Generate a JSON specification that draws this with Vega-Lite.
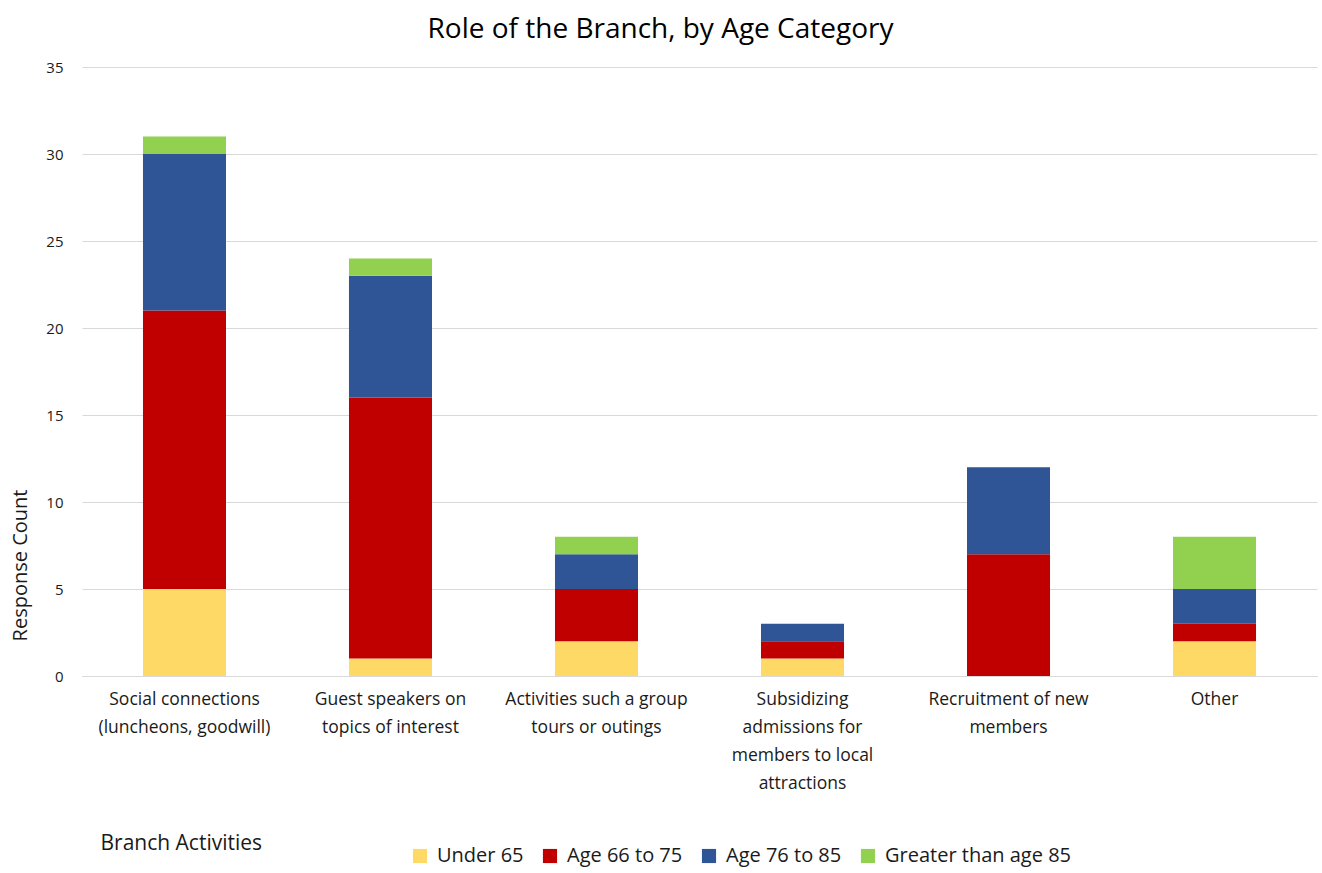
{
  "$schema": "https://vega.github.io/schema/vega-lite/v6.json",
  "autosize": "none",
  "width": 1235,
  "height": 609,
  "padding": {"left": 82, "top": 67, "right": 5, "bottom": 197},
  "background": "white",
  "title": {"text": "Role of the Branch, by Age Category", "fontSize": 28, "font": "Open Sans", "fontWeight": "normal", "color": "#000000", "dx": -39, "offset": 16},
  "config": {"view": {"stroke": null}, "font": "Open Sans"},
  "data": {"values": [
    {"activity": "Social connections (luncheons, goodwill)", "age": "Under 65", "order": 1, "count": 5},
    {"activity": "Social connections (luncheons, goodwill)", "age": "Age 66 to 75", "order": 2, "count": 16},
    {"activity": "Social connections (luncheons, goodwill)", "age": "Age 76 to 85", "order": 3, "count": 9},
    {"activity": "Social connections (luncheons, goodwill)", "age": "Greater than age 85", "order": 4, "count": 1},
    {"activity": "Guest speakers on topics of interest", "age": "Under 65", "order": 1, "count": 1},
    {"activity": "Guest speakers on topics of interest", "age": "Age 66 to 75", "order": 2, "count": 15},
    {"activity": "Guest speakers on topics of interest", "age": "Age 76 to 85", "order": 3, "count": 7},
    {"activity": "Guest speakers on topics of interest", "age": "Greater than age 85", "order": 4, "count": 1},
    {"activity": "Activities such a group tours or outings", "age": "Under 65", "order": 1, "count": 2},
    {"activity": "Activities such a group tours or outings", "age": "Age 66 to 75", "order": 2, "count": 3},
    {"activity": "Activities such a group tours or outings", "age": "Age 76 to 85", "order": 3, "count": 2},
    {"activity": "Activities such a group tours or outings", "age": "Greater than age 85", "order": 4, "count": 1},
    {"activity": "Subsidizing admissions for members to local attractions", "age": "Under 65", "order": 1, "count": 1},
    {"activity": "Subsidizing admissions for members to local attractions", "age": "Age 66 to 75", "order": 2, "count": 1},
    {"activity": "Subsidizing admissions for members to local attractions", "age": "Age 76 to 85", "order": 3, "count": 1},
    {"activity": "Subsidizing admissions for members to local attractions", "age": "Greater than age 85", "order": 4, "count": 0},
    {"activity": "Recruitment of new members", "age": "Under 65", "order": 1, "count": 0},
    {"activity": "Recruitment of new members", "age": "Age 66 to 75", "order": 2, "count": 7},
    {"activity": "Recruitment of new members", "age": "Age 76 to 85", "order": 3, "count": 5},
    {"activity": "Recruitment of new members", "age": "Greater than age 85", "order": 4, "count": 0},
    {"activity": "Other", "age": "Under 65", "order": 1, "count": 2},
    {"activity": "Other", "age": "Age 66 to 75", "order": 2, "count": 1},
    {"activity": "Other", "age": "Age 76 to 85", "order": 3, "count": 2},
    {"activity": "Other", "age": "Greater than age 85", "order": 4, "count": 3}
  ]},
  "mark": {"type": "bar"},
  "encoding": {
    "x": {
      "field": "activity", "type": "nominal", "sort": null,
      "scale": {"paddingInner": 0.597, "paddingOuter": 0.296},
      "axis": {
        "title": "Branch Activities", "titleFontSize": 21, "titleFontWeight": "normal", "titleColor": "#1a1a1a",
        "titleAnchor": "start", "titleAlign": "left", "titleX": 18, "titleY": 167, "titleBaseline": "middle",
        "labelAngle": 0, "labelFontSize": 17.5, "labelColor": "#1a1a1a", "labelPadding": 14, "labelLineHeight": 28,
        "labelBaseline": "top", "labelLimit": 300,
        "labelExpr": "datum.value == 'Social connections (luncheons, goodwill)' ? ['Social connections', '(luncheons, goodwill)'] : datum.value == 'Guest speakers on topics of interest' ? ['Guest speakers on', 'topics of interest'] : datum.value == 'Activities such a group tours or outings' ? ['Activities such a group', 'tours or outings'] : datum.value == 'Subsidizing admissions for members to local attractions' ? ['Subsidizing', 'admissions for', 'members to local', 'attractions'] : datum.value == 'Recruitment of new members' ? ['Recruitment of new', 'members'] : datum.value",
        "ticks": false, "domainColor": "#d9d9d9", "domainWidth": 1
      }
    },
    "y": {
      "field": "count", "type": "quantitative", "stack": "zero",
      "scale": {"domain": [0, 35]},
      "axis": {
        "title": "Response Count", "titleFontSize": 20, "titleFontWeight": "normal", "titleColor": "#1a1a1a",
        "titleX": -62, "titleY": 498, "titleAngle": -90, "titleAlign": "center", "titleBaseline": "middle",
        "values": [0, 5, 10, 15, 20, 25, 30, 35], "labelFontSize": 15, "labelColor": "#1a1a1a", "labelPadding": 19,
        "ticks": false, "domain": false, "gridColor": "#d9d9d9", "gridWidth": 1
      }
    },
    "order": {"field": "order", "type": "quantitative"},
    "color": {
      "field": "age", "type": "nominal",
      "scale": {"domain": ["Under 65", "Age 66 to 75", "Age 76 to 85", "Greater than age 85"], "range": ["#FFD966", "#C00000", "#2F5597", "#92D050"]},
      "legend": {
        "title": null, "orient": "none", "direction": "horizontal", "legendX": 328, "legendY": 779,
        "symbolType": "square", "symbolSize": 200, "symbolStrokeWidth": 0, "labelFontSize": 20, "labelColor": "#1a1a1a",
        "columnPadding": 16, "labelOffset": 7, "labelLimit": 300
      }
    }
  }
}
